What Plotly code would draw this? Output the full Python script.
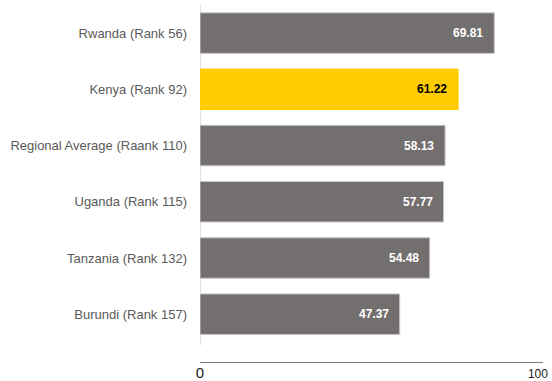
import plotly.graph_objects as go

categories = ["Rwanda (Rank 56)", "Kenya (Rank 92)", "Regional Average (Raank 110)",
              "Uganda (Rank 115)", "Tanzania (Rank 132)", "Burundi (Rank 157)"]
values = [69.81, 61.22, 58.13, 57.77, 54.48, 47.37]
highlight = "Kenya (Rank 92)"
axis_ticks = [0, 100]
axis_ticktext = ["<span style='font-size:15px'>0</span>", "100"]

GREY = "#736f6e"
YELLOW = "#ffcc00"
FONT = "Liberation Sans, Arial"
colors = [YELLOW if c == highlight else GREY for c in categories]
line_colors = [YELLOW if c == highlight else "#c8c6c5" for c in categories]
text_colors = ["#000000" if c == highlight else "#ffffff" for c in categories]

fig = go.Figure()
fig.add_trace(go.Bar(
    x=values, y=categories, orientation="h",
    marker=dict(color=colors, line=dict(color=line_colors, width=1)),
    width=0.72, hoverinfo="skip", showlegend=False,
))
# invisible carrier trace so the value-scale axis is drawn
fig.add_trace(go.Scatter(x=axis_ticks, y=[categories[0]] * len(axis_ticks), xaxis="x2",
                         mode="none", hoverinfo="skip", showlegend=False))

for c, v, tc in zip(categories, values, text_colors):
    fig.add_annotation(x=v, y=c, text=f"<b>{v:.2f}</b>", showarrow=False,
                       xanchor="right", xshift=-9,
                       font=dict(family=FONT, size=12, color=tc))

# light vertical category axis line
fig.add_shape(type="line", xref="x", yref="y", x0=0, x1=0, y0=-0.55, y1=5.55,
              line=dict(color="#d9d9d9", width=1.5), layer="below")

fig.update_layout(
    width=552, height=381,
    margin=dict(l=200, r=9, t=5, b=19, autoexpand=False),
    paper_bgcolor="white", plot_bgcolor="white",
    xaxis=dict(range=[0, 81.36], showgrid=False, zeroline=False, showline=False,
               showticklabels=False, ticks="", fixedrange=True),
    xaxis2=dict(overlaying="x", anchor="y", side="bottom", range=[0, 101.5],
                tickvals=axis_ticks, ticktext=axis_ticktext, showgrid=False,
                zeroline=False, showline=True, linecolor="#808080", linewidth=1.2,
                ticks="", automargin=False,
                tickfont=dict(family=FONT, size=12, color="#1a1a1a")),
    yaxis=dict(categoryorder="array", categoryarray=categories, range=[5.85, -0.5],
               showgrid=False, zeroline=False, showline=False, ticks="",
               ticklabelstandoff=12, automargin=False,
               tickfont=dict(family=FONT, size=13, color="#595959")),
    bargap=0.28,
)

fig.write_html("out.html")
